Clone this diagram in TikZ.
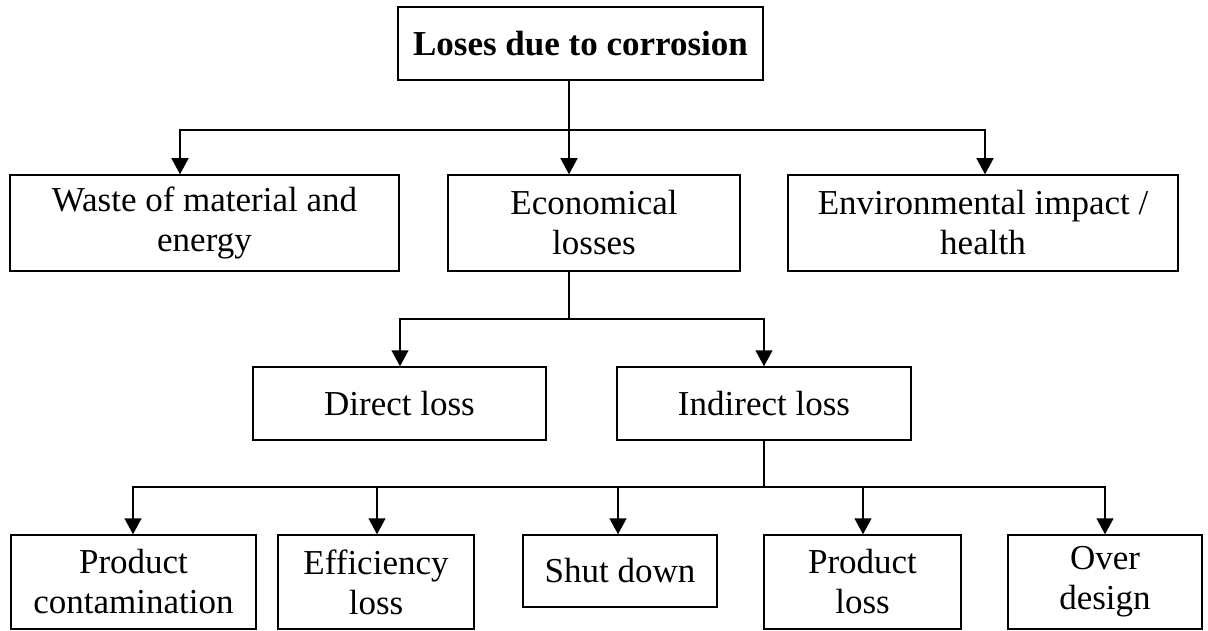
\documentclass[tikz,border=0pt]{standalone}
\usepackage{fontspec}
\setmainfont{Liberation Serif}
\usepackage{tikz}
\usetikzlibrary{arrows.meta}

\tikzset{
  box/.style={draw, line width=1.5pt, rectangle, inner sep=0pt, align=center,
    font=\fontsize{35}{40}\selectfont},
  arrowline/.style={line width=1.5pt, -{Triangle[length=16pt,width=17pt]}},
}

\begin{document}
\begin{tikzpicture}[x=1pt, y=-1pt]
      \useasboundingbox (0,0) rectangle (1208,631);
      % boxes
      \node[box, minimum width=365pt, minimum height=73pt, font=\fontsize{35}{40}\selectfont\bfseries] (top) at (580.5, 43.5) {Loses due to corrosion};
      \node[box, minimum width=389pt, minimum height=96pt] (waste) at (204.5, 223) {Waste of material and\\energy};
      \node[box, minimum width=292pt, minimum height=96pt] (econ) at (594, 223) {Economical\\losses};
      \node[box, minimum width=390pt, minimum height=96pt] (env) at (983, 223) {Environmental impact /\\health};
      \node[box, minimum width=293pt, minimum height=73pt] (direct) at (399.5, 403.5) {Direct loss};
      \node[box, minimum width=294pt, minimum height=73pt] (indirect) at (764, 403.5) {Indirect loss};
      \node[box, minimum width=245pt, minimum height=94pt] (contam) at (133.5, 582) {Product\\contamination};
      \node[box, minimum width=196pt, minimum height=94pt] (effic) at (376, 582) {Efficiency\\loss};
      \node[box, minimum width=194pt, minimum height=72pt] (shut) at (620, 571) {Shut down};
      \node[box, minimum width=197pt, minimum height=94pt] (prodloss) at (862.5, 582) {Product\\loss};
      \node[box, minimum width=194pt, minimum height=94pt] (overdes) at (1105, 582) {Over\\design};
      % first level
      \coordinate (bus1) at (569, 130);
      \draw [line width=1.5pt] (top.south -| bus1) -- (bus1);
      \draw [arrowline] (bus1) -| (waste.north -| 180,0);
      \draw [arrowline] (bus1) -- (econ.north -| bus1);
      \draw [arrowline] (bus1) -| (env.north -| 985,0);
      % second level
      \coordinate (bus2) at (569, 319);
      \draw [line width=1.5pt] (econ.south -| bus2) -- (bus2);
      \draw [arrowline] (bus2) -| (direct.north -| 400,0);
      \draw [arrowline] (bus2) -| (indirect.north -| 764,0);
      % third level
      \coordinate (bus3) at (764, 487);
      \draw [line width=1.5pt] (indirect.south -| bus3) -- (bus3);
      \draw [arrowline] (bus3) -| (contam.north -| 133,0);
      \draw [arrowline] (bus3) -| (effic.north -| 377,0);
      \draw [arrowline] (bus3) -| (shut.north -| 618,0);
      \draw [arrowline] (bus3) -| (prodloss.north -| 863,0);
      \draw [arrowline] (bus3) -| (overdes.north -| 1105,0);
    \end{tikzpicture}
\end{document}
